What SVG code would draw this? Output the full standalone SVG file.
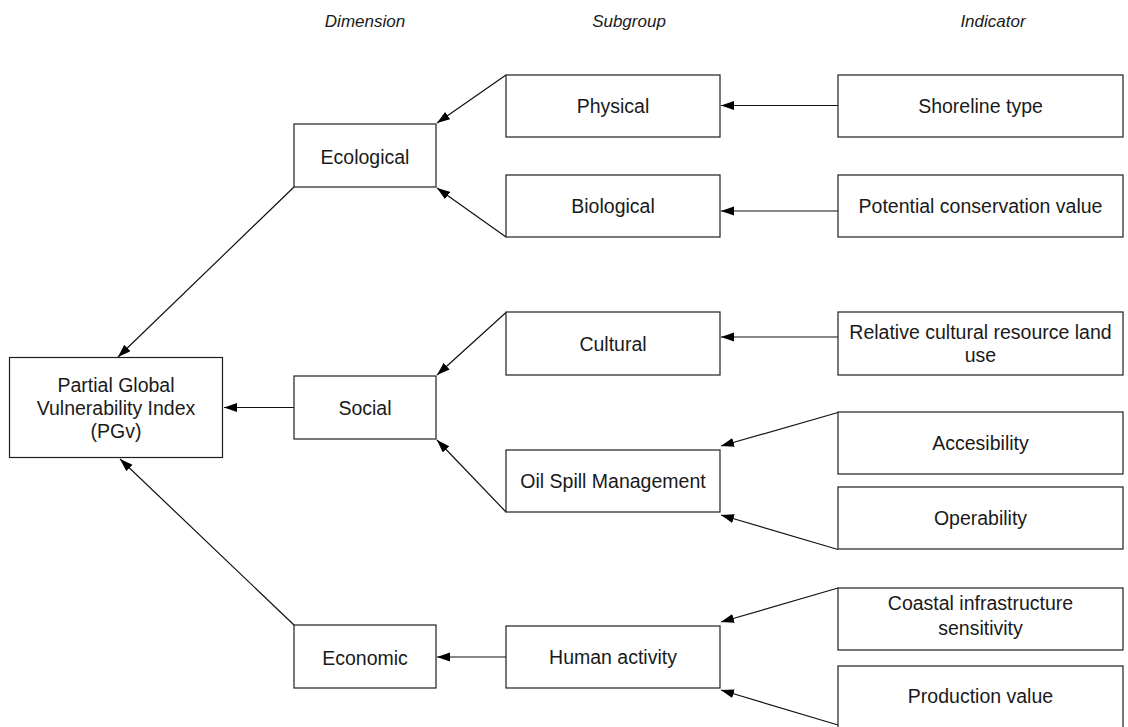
<svg xmlns="http://www.w3.org/2000/svg" width="1128" height="727" viewBox="0 0 1128 727">
<style>
  .box { fill: #ffffff; stroke: #1e1e1e; stroke-width: 1.2; }
  .lbl { font-family: "Liberation Sans", Arial, sans-serif; font-size: 19.5px; fill: #1a1a1a; text-anchor: middle; }
  .hdr { font-family: "Liberation Sans", Arial, sans-serif; font-size: 17px; font-style: italic; fill: #1a1a1a; text-anchor: middle; }
  .edge { stroke: #111111; stroke-width: 1.2; fill: none; marker-end: url(#arrow); }
</style>
<defs>
  <marker id="arrow" markerUnits="userSpaceOnUse" markerWidth="14" markerHeight="10" refX="13" refY="4.5" orient="auto">
    <path d="M0,0 L13,4.5 L0,9 z" fill="#000000"/>
  </marker>
</defs>
<rect width="1128" height="727" fill="#ffffff"/>

<g id="headers">
  <text class="hdr" x="365" y="27">Dimension</text>
  <text class="hdr" x="629" y="27">Subgroup</text>
  <text class="hdr" x="993" y="27">Indicator</text>
</g>

<g id="connectors">
  <line class="edge" x1="838" y1="105.5" x2="721" y2="105.5"/>
  <line class="edge" x1="838" y1="211" x2="721" y2="211"/>
  <line class="edge" x1="506" y1="75" x2="437" y2="123"/>
  <line class="edge" x1="506" y1="237" x2="437" y2="188"/>
  <line class="edge" x1="294" y1="187" x2="118" y2="357"/>
  <line class="edge" x1="838" y1="337" x2="721" y2="337"/>
  <line class="edge" x1="838" y1="412.5" x2="721" y2="446"/>
  <line class="edge" x1="838" y1="549.5" x2="721" y2="515"/>
  <line class="edge" x1="506" y1="312.5" x2="437" y2="375"/>
  <line class="edge" x1="506" y1="512" x2="437" y2="440"/>
  <line class="edge" x1="294" y1="407.5" x2="224" y2="407.5"/>
  <line class="edge" x1="838" y1="588" x2="721" y2="622"/>
  <line class="edge" x1="838" y1="725" x2="721" y2="690"/>
  <line class="edge" x1="506" y1="657" x2="437" y2="657"/>
  <line class="edge" x1="294" y1="625" x2="120" y2="459"/>
</g>

<g id="pgv">
  <rect class="box" x="9.5" y="357.5" width="213" height="100"/>
  <text class="lbl" x="116" y="391.7">Partial Global</text>
  <text class="lbl" x="116" y="415">Vulnerability Index</text>
  <text class="lbl" x="116" y="438.3">(PGv)</text>
</g>

<g id="ecological">
  <rect class="box" x="294" y="124" width="142" height="63"/>
  <text class="lbl" x="365" y="164">Ecological</text>
</g>
<g id="social">
  <rect class="box" x="294" y="376" width="142" height="63"/>
  <text class="lbl" x="365" y="415">Social</text>
</g>
<g id="economic">
  <rect class="box" x="294" y="625" width="142" height="63"/>
  <text class="lbl" x="365" y="665">Economic</text>
</g>

<g id="physical">
  <rect class="box" x="506" y="75" width="214" height="62"/>
  <text class="lbl" x="613" y="113">Physical</text>
</g>
<g id="biological">
  <rect class="box" x="506" y="175" width="214" height="62"/>
  <text class="lbl" x="613" y="213">Biological</text>
</g>
<g id="cultural">
  <rect class="box" x="506" y="312" width="214" height="63"/>
  <text class="lbl" x="613" y="350.5">Cultural</text>
</g>
<g id="oil-spill-management">
  <rect class="box" x="506" y="450" width="214" height="62"/>
  <text class="lbl" x="613" y="488">Oil Spill Management</text>
</g>
<g id="human-activity">
  <rect class="box" x="506" y="626" width="214" height="62"/>
  <text class="lbl" x="613" y="664">Human activity</text>
</g>

<g id="shoreline-type">
  <rect class="box" x="838" y="75" width="285" height="62"/>
  <text class="lbl" x="980.5" y="113">Shoreline type</text>
</g>
<g id="potential-conservation-value">
  <rect class="box" x="838" y="175" width="285" height="62"/>
  <text class="lbl" x="980.5" y="213">Potential conservation value</text>
</g>
<g id="relative-cultural-resource">
  <rect class="box" x="838" y="312" width="285" height="63"/>
  <text class="lbl" x="980.5" y="339.3">Relative cultural resource land</text>
  <text class="lbl" x="980.5" y="361.7">use</text>
</g>
<g id="accesibility">
  <rect class="box" x="838" y="412" width="285" height="62"/>
  <text class="lbl" x="980.5" y="450">Accesibility</text>
</g>
<g id="operability">
  <rect class="box" x="838" y="487" width="285" height="62"/>
  <text class="lbl" x="980.5" y="525">Operability</text>
</g>
<g id="coastal-infrastructure">
  <rect class="box" x="838" y="588" width="285" height="62"/>
  <text class="lbl" x="980.5" y="610">Coastal infrastructure</text>
  <text class="lbl" x="980.5" y="635">sensitivity</text>
</g>
<g id="production-value">
  <rect class="box" x="838" y="666" width="285" height="63"/>
  <text class="lbl" x="980.5" y="703">Production value</text>
</g>
</svg>
